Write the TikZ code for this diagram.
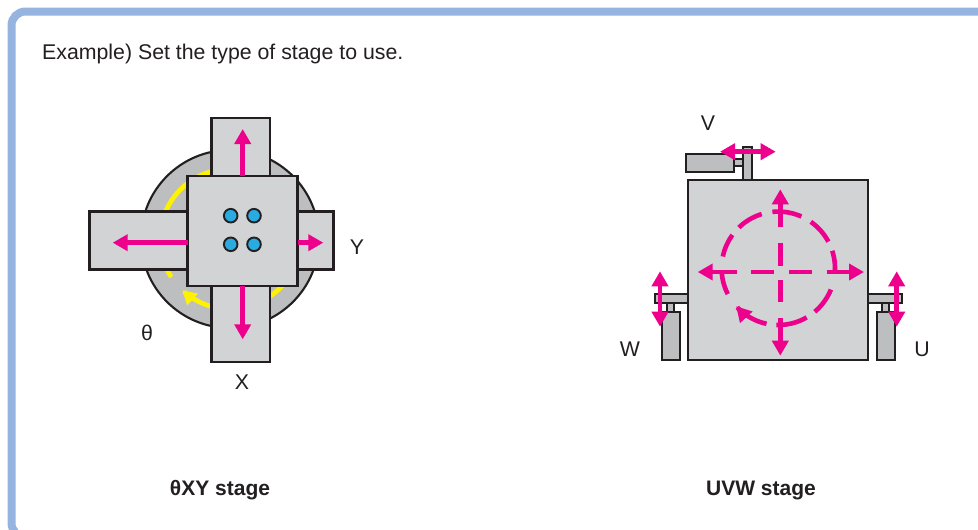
\documentclass[tikz,border=0pt]{standalone}
\usepackage{fontspec}
\setmainfont{Liberation Sans}
\usetikzlibrary{arrows.meta}
\definecolor{mag}{HTML}{EC008C}
\definecolor{ylw}{HTML}{FFF200}
\definecolor{lgr}{HTML}{D1D3D4}
\definecolor{mgr}{HTML}{BCBEC0}
\definecolor{ink}{HTML}{231F20}
\definecolor{frm}{HTML}{95B5E0}
\definecolor{dotc}{HTML}{29ABE2}
\tikzset{
  x=1pt,y=-1pt,
  plate/.style={draw=ink,line width=2.1pt,fill=lgr,line join=miter},
  drive/.style={draw=ink,line width=2.1pt,fill=mgr,line join=miter},
  pin/.style={draw=ink,line width=1.9pt,fill=dotc},
  magline/.style={draw=mag,line width=4.6pt},
  magtip/.style={magline,-{Triangle[length=15pt,width=16pt]}},
  magtips/.style={magline,{Triangle[length=15pt,width=16pt]}-{Triangle[length=15pt,width=16pt]}},
  lbl/.style={text=ink,font=\fontsize{21.3}{24}\selectfont,inner sep=0pt},
  cap lbl/.style={text=ink,font=\fontsize{21}{24}\selectfont\bfseries,inner sep=0pt}
}
\newcommand{\dashseg}[2]{\draw[magline] plot[smooth,domain=#1:#2,samples=24] ({778.3+56.7*cos(\x)},{268.3+56.7*sin(\x)});}
\begin{document}
\begin{tikzpicture}
\useasboundingbox (0,0) rectangle (978,530);
\clip (0,0) rectangle (978,530);
\fill[white] (0,0) rectangle (978,530);
% frame
\draw[frm,line width=8pt,rounded corners=14pt] (1000,11.5) -- (11.5,11.5) -- (11.5,537) -- (1000,537);
\node[lbl,anchor=base west] (title) at (42,59) {Example) Set the type of stage to use.};
% theta-XY stage
\draw[drive] (230,239) circle[radius=89];
\draw[draw=ylw,line width=4.7pt] plot[smooth,domain=147:300,samples=40] ({230+70*cos(\x)},{239+70*sin(\x)});
\draw[draw=ylw,line width=4.7pt,-{Triangle[length=14pt,width=15pt]}] plot[smooth,domain=30:133,samples=40] ({230+70*cos(\x)},{239+70*sin(\x)});
\draw[plate] (211.5,118) rectangle (270,176);
\draw[plate] (211.5,285.7) rectangle (270,362);
\draw[plate] (89.5,211.5) rectangle (187.5,269.5);
\draw[plate] (297.5,211.5) rectangle (333.5,269.5);
\draw[plate] (187.5,176) rectangle (297.5,285.7);
\draw[magtip] (242.7,176) -- (242.7,129);
\draw[magtip] (242.7,286) -- (242.7,339.3);
\draw[magtip] (187.5,242.7) -- (112.7,242.7);
\draw[magtip] (297.5,242.7) -- (323.3,242.7);
\foreach \px/\py in {230.7/215.7,254/215.7,230.7/244.3,254/244.3}
  \draw[pin] (\px,\py) circle[radius=6.8];
\node[lbl] (ltheta) at (147,333) {θ};
\node[lbl] (ly) at (357,247) {Y};
\node[lbl] (lx) at (242,382) {X};
\node[cap lbl] (cap1) at (220,490) {θXY stage};
% UVW stage
\draw[drive] (743.3,146.7) rectangle (752.3,181);
\draw[drive] (734,159.3) rectangle (743.3,166);
\draw[drive] (686,153.7) rectangle (734,172);
\draw[plate] (688.3,180.3) rectangle (867.7,360);
\draw[drive] (666.7,303.3) rectangle (674,312.3);
\draw[drive] (661.7,312.3) rectangle (680,360);
\draw[drive] (655,294.3) rectangle (688.3,302.7);
\draw[drive] (881.7,303.3) rectangle (889,312.3);
\draw[drive] (876.7,312.3) rectangle (895,360);
\draw[drive] (867.7,294.3) rectangle (901.7,302.7);
\draw[magtips] (720,151.7) -- (775.7,151.7);
\draw[magtips] (660,271.3) -- (660,326.7);
\draw[magtips] (896.7,271.3) -- (896.7,326.7);
\dashseg{264}{294}
\dashseg{305}{332}
\dashseg{342}{365}
\dashseg{22}{50}
\dashseg{60}{92}
\dashseg{153}{178}
\dashseg{192}{216}
\dashseg{226}{253}
\draw[draw=mag,line width=4.6pt,-{Triangle[length=15pt,width=16pt]}] plot[smooth,domain=102:138,samples=20] ({778.3+56.7*cos(\x)},{268.3+56.7*sin(\x)});
\draw[magtip] (780.3,227.3) -- (780.3,189.3);
\draw[magline] (780.3,242.7) -- (780.3,265.7);
\draw[magline] (780.3,280) -- (780.3,302.3);
\draw[magtip] (780.3,318.3) -- (780.3,355.7);
\draw[magtip] (736.7,272) -- (697.7,272);
\draw[magline] (751,272) -- (774,272);
\draw[magline] (789,272) -- (812,272);
\draw[magtip] (826.7,272) -- (864,272);
\node[lbl] (lv) at (708,123) {V};
\node[lbl] (lw) at (630,349) {W};
\node[lbl] (lu) at (922,349) {U};
\node[cap lbl] (cap2) at (761,490) {UVW stage};
\end{tikzpicture}
\end{document}
